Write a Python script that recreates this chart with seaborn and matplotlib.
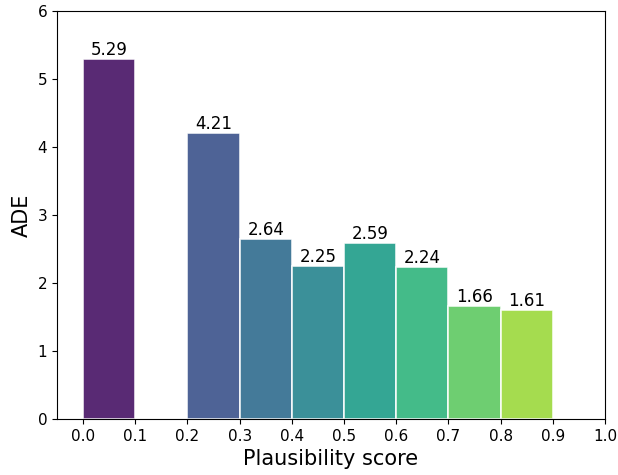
import matplotlib
matplotlib.use("Agg")
import matplotlib.pyplot as plt
import seaborn as sns
import pandas as pd

# Mean ADE per plausibility-score bin (bin 0.1-0.2 has no samples)
bin_left = [0.0, 0.2, 0.3, 0.4, 0.5, 0.6, 0.7, 0.8]
ade = [5.29, 4.21, 2.64, 2.25, 2.59, 2.24, 1.66, 1.61]
bin_width = 0.1
xticks = [round(0.1 * i, 1) for i in range(11)]

centers = [b + bin_width / 2 for b in bin_left]

# colour each bin by its centre score on the viridis map
cmap = sns.color_palette("viridis", as_cmap=True)
colors = [cmap(c) for c in centers]

df = pd.DataFrame({
    "center": centers,
    "ade": ade,
    "bin": [f"{b:.1f}" for b in bin_left],
})

fig = plt.figure(figsize=(6.18, 4.75), dpi=100)
ax = fig.add_axes([57 / 618, 56 / 475, 548 / 618, 408 / 475])

sns.barplot(data=df, x="center", y="ade", hue="bin", palette=colors,
            native_scale=True, width=1.0, saturation=1, alpha=0.9,
            edgecolor="white", linewidth=1.2,
            legend=False, ax=ax, dodge=False)

for cont in ax.containers:
    ax.bar_label(cont, fmt="%.2f", fontsize=12, padding=0)

ax.set_xlim(-0.05, 1.0)
ax.set_ylim(0, 6)
ax.set_xticks(xticks)
ax.set_xticklabels([f"{t:.1f}" for t in xticks])
ax.tick_params(labelsize=11)
ax.set_xlabel("Plausibility score", fontsize=15)
ax.set_ylabel("ADE", fontsize=15)

fig.savefig("out.png", dpi=100)
